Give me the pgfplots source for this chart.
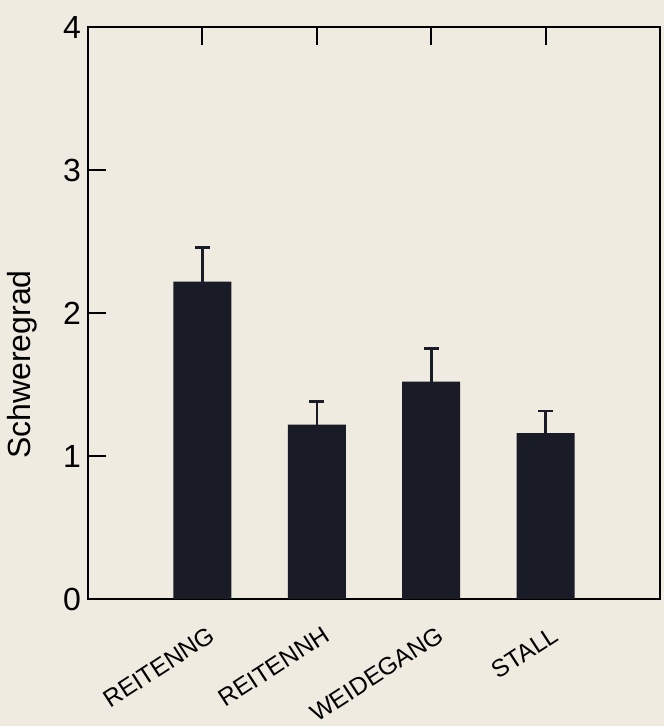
\documentclass[border=0pt]{standalone}
\usepackage{pgfplots}
\pgfplotsset{compat=1.18}
\usepackage{fontspec}
\setmainfont{Liberation Sans}
\definecolor{bg}{RGB}{239,235,224}
\definecolor{barc}{RGB}{25,27,38}
\begin{document}
\begin{tikzpicture}[x=1pt,y=1pt]
\useasboundingbox (0,0) rectangle (664,726);
\fill[bg] (0,0) rectangle (664,726);
\begin{axis}[
  at={(88pt,127pt)}, anchor=south west,
  scale only axis, width=572pt, height=572pt,
  xmin=0, xmax=5, ymin=0, ymax=4,
  xtick={1,2,3,4},
  xticklabels={REITENNG,REITENNH,WEIDEGANG,STALL},
  ytick={0,1,2,3,4},
  tick align=inside, ytick pos=left, xtick pos=both,
  major tick length=18pt,
  axis line style={line width=2pt, black},
  every tick/.style={line width=2pt, black},
  /pgf/number format/assume math mode=true,
  yticklabel style={font=\fontsize{32}{36}\selectfont, inner sep=0pt, xshift=-7pt},
  xticklabel style={font=\fontsize{24.5}{30}\selectfont, inner sep=0pt, xshift=5pt, yshift=-26pt, rotate=33, anchor=north east},
  ylabel={Schweregrad},
  ylabel style={font=\fontsize{32}{36}\selectfont, at={(axis description cs:-0.115,0.41)}, anchor=center},
]
\addplot[ybar, bar width=58pt, fill=barc, draw=none,
  error bars/.cd, y dir=plus, y explicit,
  error bar style={line width=2.6pt, color=barc},
  error mark options={rotate=90, mark size=7.5pt, line width=2.6pt, color=barc}]
  coordinates {
    (1,2.22) +- (0,0.24)
    (2,1.22) +- (0,0.16)
    (3,1.52) +- (0,0.23)
    (4,1.16) +- (0,0.155)
  };
\end{axis}
\end{tikzpicture}
\end{document}
